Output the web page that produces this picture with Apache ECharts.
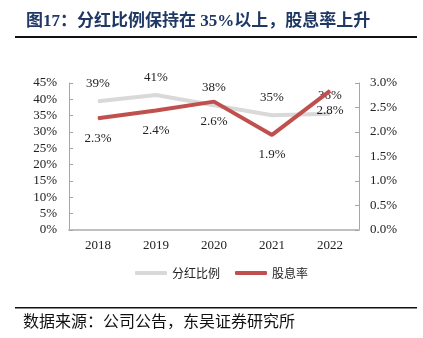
<!DOCTYPE html>
<html>
<head>
<meta charset="utf-8">
<script src="https://cdn.jsdelivr.net/npm/echarts@6/dist/echarts.min.js"></script>
<style>
html,body{margin:0;padding:0;background:#fff;}
#chart{width:423px;height:338px;}
</style>
</head>
<body>
<div id="chart"></div>
<script>
var titleText = '图17：分红比例保持在 35%以上，股息率上升';
var sourceText = '数据来源：公司公告，东吴证券研究所';
var categories = ['2018', '2019', '2020', '2021', '2022'];
var payoutRatio = [39.4, 41.3, 38.2, 35.1, 35.6];
var dividendYield = [2.28, 2.44, 2.62, 1.94, 2.84];
var leftTicks = {min: 0, max: 45, interval: 5};
var rightTicks = {min: 0, max: 3, interval: 0.5};

var numFont = "'Liberation Serif', 'Noto Sans CJK SC', serif";
var cjkFont = "'Noto Sans CJK SC', 'Liberation Serif', sans-serif";

var chart = echarts.init(document.getElementById('chart'));
chart.setOption({
  animation: false,
  backgroundColor: '#fff',
  grid: {left: 69, right: 64, top: 83, bottom: 108, containLabel: false},
  legend: {
    left: 130, top: 262,
    itemWidth: 32, itemHeight: 4, itemGap: 15,
    icon: 'roundRect',
    textStyle: {fontFamily: cjkFont, fontSize: 12, color: '#222', padding: [0,0,0,0]},
    data: ['分红比例', '股息率']
  },
  graphic: [
    {type: 'text', left: 26, top: 13, style: {text: titleText, font: "bold 17px 'Liberation Serif', 'Noto Sans CJK SC', serif", fill: '#1f3864'}},
    {type: 'rect', shape: {x: 15, y: 36, width: 402, height: 2}, style: {fill: '#111'}},
    {type: 'rect', shape: {x: 15, y: 307, width: 402, height: 1.5}, style: {fill: '#111'}},
    {type: 'text', left: 23, top: 313, style: {text: sourceText, font: "16px 'Noto Sans CJK SC', sans-serif", fill: '#111'}}
  ],
  xAxis: {
    type: 'category', data: categories, boundaryGap: true,
    axisLine: {lineStyle: {color: '#bfbfbf', width: 2}},
    axisTick: {inside: true, length: 4, lineStyle: {color: '#bfbfbf'}},
    axisLabel: {fontFamily: numFont, fontSize: 13, color: '#222', margin: 9}
  },
  yAxis: [
    {
      type: 'value', min: leftTicks.min, max: leftTicks.max, interval: leftTicks.interval,
      splitLine: {show: false},
      axisLine: {show: true, lineStyle: {color: '#a6a6a6'}},
      axisTick: {show: true, inside: true, length: 4, lineStyle: {color: '#a6a6a6'}},
      axisLabel: {fontFamily: numFont, fontSize: 13, color: '#222', margin: 12, formatter: '{value}%'}
    },
    {
      type: 'value', min: rightTicks.min, max: rightTicks.max, interval: rightTicks.interval,
      splitLine: {show: false},
      axisLine: {show: true, lineStyle: {color: '#a6a6a6'}},
      axisTick: {show: true, inside: true, length: 4, lineStyle: {color: '#a6a6a6'}},
      axisLabel: {fontFamily: numFont, fontSize: 13, color: '#222', margin: 11,
        formatter: function (v) { return v.toFixed(1) + '%'; }}
    }
  ],
  series: [
    {
      name: '分红比例', type: 'line', yAxisIndex: 0, data: payoutRatio,
      symbol: 'circle', symbolSize: 1, showSymbol: true,
      lineStyle: {color: '#d9d9d9', width: 4}, itemStyle: {color: '#d9d9d9'},
      label: {show: true, position: 'top', distance: 11, fontFamily: numFont, fontSize: 13, color: '#222',
        formatter: function (p) { return Math.round(p.value) + '%'; }},
      labelLayout: {hideOverlap: false},
      z: 2
    },
    {
      name: '股息率', type: 'line', yAxisIndex: 1, data: dividendYield,
      symbol: 'circle', symbolSize: 1, showSymbol: true,
      lineStyle: {color: '#c0504d', width: 4}, itemStyle: {color: '#c0504d'},
      label: {show: true, position: 'bottom', distance: 13, fontFamily: numFont, fontSize: 13, color: '#222',
        formatter: function (p) { return p.value.toFixed(1) + '%'; }},
      labelLayout: {hideOverlap: false},
      z: 3
    }
  ]
});
</script>
</body>
</html>
